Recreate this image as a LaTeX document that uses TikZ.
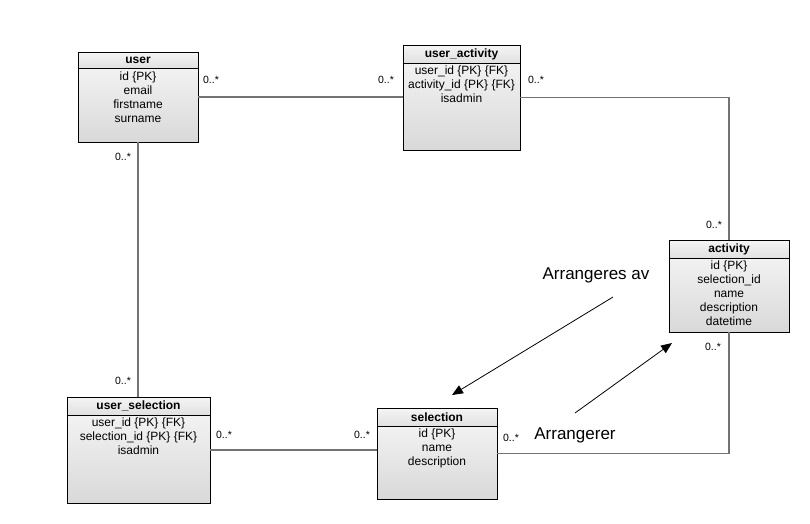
\documentclass[tikz,border=0pt]{standalone}
\usepackage{fontspec}
\setmainfont{Liberation Sans}
\usetikzlibrary{arrows.meta}
\begin{document}
\begin{tikzpicture}[x=1pt,y=-1pt,
  entity/.style={draw=black, line width=0.9pt, rectangle, inner sep=0pt,
    top color=gray!6, bottom color=gray!30},
  header/.style={draw=black, line width=0.9pt, rectangle, inner sep=0pt,
    top color=gray!8, bottom color=gray!24, minimum height=18pt,
    font=\fontsize{12}{14}\selectfont\bfseries, anchor=north},
  attrs/.style={anchor=north, align=center, inner sep=0pt,
    font=\fontsize{12}{14}\selectfont},
  conn/.style={draw=gray!90!black, line width=1.4pt},
  mult/.style={font=\fontsize{10.5}{12}\selectfont, inner sep=0pt},
  note/.style={font=\fontsize{17}{20}\selectfont, inner sep=0pt},
  assoc/.style={draw=black, line width=0.8pt, -{Triangle[length=11pt,width=9pt]}}
]
\useasboundingbox (0,0) rectangle (810,523);

% entity boxes: body, title bar, attribute list
\node[entity, minimum width=120pt, minimum height=90pt] (user) at (138,97) {};
\node[header, minimum width=120pt, minimum height=16pt] (user-h) at (user.north) {user};
\node[attrs] (user-a) at ([yshift=-3pt]user-h.south) {id \{PK\}\\email\\firstname\\surname};

\node[entity, minimum width=117pt, minimum height=105pt] (ua) at (461.5,97.5) {};
\node[header, minimum width=117pt] (ua-h) at (ua.north) {user\_activity};
\node[attrs] (ua-a) at ([yshift=-2.5pt]ua-h.south) {user\_id \{PK\} \{FK\}\\activity\_id \{PK\} \{FK\}\\isadmin};

\node[entity, minimum width=120pt, minimum height=92pt] (act) at (729,286) {};
\node[header, minimum width=120pt] (act-h) at (act.north) {activity};
\node[attrs] (act-a) at ([yshift=-2.5pt]act-h.south) {id \{PK\}\\selection\_id\\name\\description\\datetime};

\node[entity, minimum width=143pt, minimum height=106pt] (us) at (138.5,450) {};
\node[header, minimum width=143pt] (us-h) at (us.north) {user\_selection};
\node[attrs] (us-a) at ([yshift=-2.5pt]us-h.south) {user\_id \{PK\} \{FK\}\\selection\_id \{PK\} \{FK\}\\isadmin};

\node[entity, minimum width=120pt, minimum height=91pt] (sel) at (437,453.5) {};
\node[header, minimum width=120pt] (sel-h) at (sel.north) {selection};
\node[attrs] (sel-a) at ([yshift=-2.5pt]sel-h.south) {id \{PK\}\\name\\description};

% associations
\draw[conn] (user.east) -- (user.east -| ua.west);
\draw[conn] (ua.east) -- (ua.east -| act.north) -- (act.north);
\draw[conn] (user.south) -- (user.south |- us.north);
\draw[conn] (us.east) -- (us.east -| sel.west);
\draw[conn] (sel.east) -- (sel.east -| act.south) -- (act.south);

% multiplicities
\node[mult] (m1) at (211,80) {0..*};
\node[mult] (m2) at (386,80) {0..*};
\node[mult] (m3) at (536,80) {0..*};
\node[mult] (m4) at (714,225) {0..*};
\node[mult] (m5) at (123,157) {0..*};
\node[mult] (m6) at (123,381) {0..*};
\node[mult] (m7) at (224,435) {0..*};
\node[mult] (m8) at (362,435) {0..*};
\node[mult] (m9) at (511,438) {0..*};
\node[mult] (m10) at (713,347) {0..*};

% role annotations
\node[note] (r1) at (596,275) {Arrangeres av};
\node[note] (r2) at (575,435) {Arrangerer};
\coordinate (r1s) at (613,297);
\coordinate (r1e) at (452,395);
\coordinate (r2s) at (575,413);
\coordinate (r2e) at (672,343);
\draw[assoc] (r1s) -- (r1e);
\draw[assoc] (r2s) -- (r2e);
\end{tikzpicture}
\end{document}
